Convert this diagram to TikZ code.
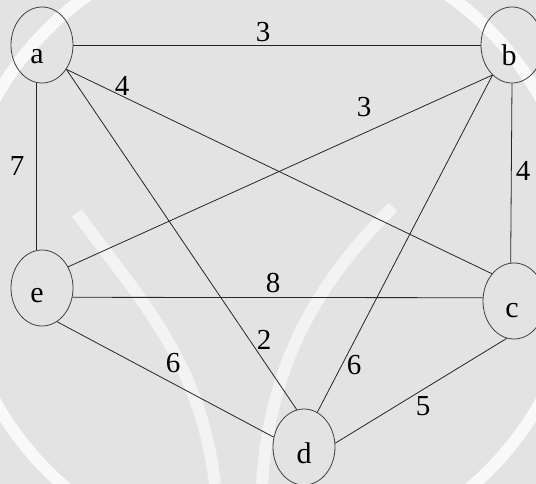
\documentclass[tikz,border=0pt]{standalone}
\usepackage{fontspec}
\setmainfont{Liberation Serif}
\usetikzlibrary{shapes.geometric}
\begin{document}
\begin{tikzpicture}[x=1pt,y=-1pt,
  vertex/.style={draw=black!75,line width=0.8pt,ellipse,minimum width=62pt,minimum height=76pt,inner sep=0pt},
  vlabel/.style={font=\fontsize{30}{30}\selectfont,inner sep=0pt},
  edge/.style={draw=black!85,line width=0.8pt},
  wlabel/.style={font=\fontsize{29}{29}\selectfont,inner sep=0pt}]
\useasboundingbox (0,0) rectangle (536,484);
\fill[black!11] (0,0) rectangle (536,484);
% faint watermark
\begin{scope}
\clip (0,0) rectangle (536,484);
\draw[white,line width=12pt,opacity=0.8] (268,250) circle[radius=312];
\draw[white,line width=12pt,opacity=0.6] (77,213) .. controls (140,300) and (200,360) .. (215,484);
\draw[white,line width=12pt,opacity=0.6] (393,207) .. controls (320,280) and (270,360) .. (262,484);
\end{scope}
\node[vertex] (a) at (42,45) {};
\node[vertex] (b) at (512,45) {};
\node[vertex] (e) at (42,288) {};
\node[vertex] (c) at (514,301) {};
\node[vertex] (d) at (304,447) {};
\node[vlabel] (la) at (37,57) {a};
\node[vlabel] (lb) at (509,55) {b};
\node[vlabel] (le) at (37,296) {e};
\node[vlabel] (lc) at (512,311) {c};
\node[vlabel] (ld) at (304,453) {d};
\draw[edge] (a.0) -- (b.180);
\draw[edge] (a.261) -- (e.99);
\draw[edge] (a.-45) -- (c.129);
\draw[edge] (a.-45) -- (d.101);
\draw[edge] (b.237) -- (e.39);
\draw[edge] (b.270) -- (c.95);
\draw[edge] (b.237) -- (d.69);
\draw[edge] (e.-17) -- (c.174);
\draw[edge] (e.-66) -- (d.162);
\draw[edge] (c.259) -- (d.7);
\node[wlabel] (w1) at (263,32) {3};
\node[wlabel] (w2) at (122,86) {4};
\node[wlabel] (w3) at (364,107) {3};
\node[wlabel] (w4) at (17,166) {7};
\node[wlabel] (w5) at (523,171) {4};
\node[wlabel] (w6) at (273,283) {8};
\node[wlabel] (w7) at (264,340) {2};
\node[wlabel] (w8) at (173,363) {6};
\node[wlabel] (w9) at (354,365) {6};
\node[wlabel] (w10) at (423,406) {5};
\end{tikzpicture}
\end{document}
